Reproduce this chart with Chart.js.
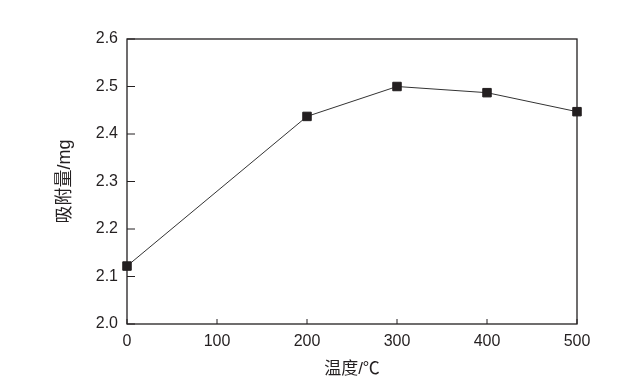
<!DOCTYPE html>
<html>
<head>
<meta charset="utf-8">
<script src="https://cdn.jsdelivr.net/npm/chart.js@4"></script>
<style>
    html, body { margin: 0; padding: 0; background: #fff; }
    #wrap { width: 623px; height: 385px; }
</style>
</head>
<body>
<div id="wrap"><canvas id="adsorptionChart" width="623" height="385"></canvas></div>
<script>
// Data
const temperatures = [0, 200, 300, 400, 500];
const adsorption = [2.122, 2.437, 2.500, 2.487, 2.447];
const xTicks = [0, 100, 200, 300, 400, 500];
const yTicks = [2.0, 2.1, 2.2, 2.3, 2.4, 2.5, 2.6];

const FONT = '"Liberation Sans", Arial, "Noto Sans CJK SC", sans-serif';
const INK = '#231f20';

// Frame around plot area + short inward ticks
const frameAndTicks = {
    id: 'frameAndTicks',
    afterDatasetsDraw(chart) {
        const ctx = chart.ctx;
        const { left, right, top, bottom } = chart.chartArea;
        ctx.save();
        ctx.strokeStyle = INK;
        ctx.lineWidth = 1.3;
        ctx.strokeRect(left, top, right - left, bottom - top);
        ctx.lineWidth = 1;
        xTicks.forEach(v => {
            const x = chart.scales.x.getPixelForValue(v);
            ctx.beginPath();
            ctx.moveTo(x, bottom);
            ctx.lineTo(x, bottom - 5);
            ctx.stroke();
        });
        yTicks.forEach(v => {
            const y = chart.scales.y.getPixelForValue(v);
            ctx.beginPath();
            ctx.moveTo(left, y);
            ctx.lineTo(left + 8, y);
            ctx.stroke();
        });
        ctx.restore();
    }
};

new Chart(document.getElementById('adsorptionChart').getContext('2d'), {
    type: 'line',
    data: {
        datasets: [{
            data: temperatures.map((t, i) => ({ x: t, y: adsorption[i] })),
            borderColor: '#333',
            borderWidth: 1,
            pointStyle: 'rect',
            pointRadius: 6,
            pointBorderWidth: 1,
            pointBackgroundColor: INK,
            pointBorderColor: INK,
            tension: 0,
            clip: false
        }]
    },
    options: {
        responsive: false,
        animation: false,
        layout: { padding: { left: 54, right: 46, top: 39, bottom: 5 } },
        plugins: {
            legend: { display: false },
            tooltip: { enabled: false }
        },
        scales: {
            x: {
                type: 'linear',
                min: 0,
                max: 500,
                afterBuildTicks(scale) { scale.ticks = xTicks.map(v => ({ value: v })); },
                afterFit(scale) { scale.height = 56; },
                grid: { display: false, drawTicks: false },
                border: { display: false },
                ticks: {
                    padding: 8,
                    color: INK,
                    font: { family: FONT, size: 16 },
                    maxRotation: 0
                },
                title: {
                    display: true,
                    text: '温度/℃',
                    color: INK,
                    font: { family: FONT, size: 17 },
                    padding: { top: 3, bottom: 0 }
                }
            },
            y: {
                min: 2.0,
                max: 2.6,
                afterBuildTicks(scale) { scale.ticks = yTicks.map(v => ({ value: v })); },
                afterFit(scale) { scale.width = 73; },
                grid: { display: false, drawTicks: false },
                border: { display: false },
                ticks: {
                    padding: 9,
                    color: INK,
                    font: { family: FONT, size: 16 },
                    callback: v => Number(v).toFixed(1)
                },
                title: {
                    display: true,
                    text: '吸附量/mg',
                    color: INK,
                    font: { family: FONT, size: 18 },
                    padding: { top: 0, bottom: 6 }
                }
            }
        }
    },
    plugins: [frameAndTicks]
});
</script>
</body>
</html>
